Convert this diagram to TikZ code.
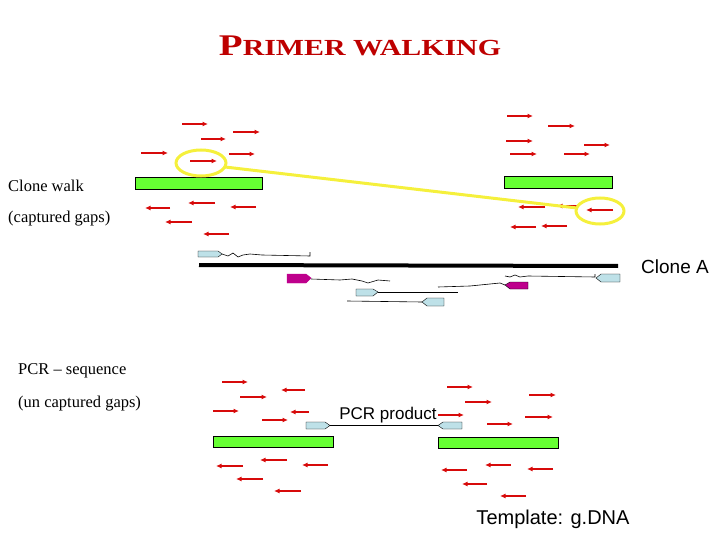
\documentclass[tikz,border=0pt]{standalone}
\usepackage{fontspec}
\setmainfont{Liberation Serif}
\newfontfamily\arialf{Liberation Sans}
\usetikzlibrary{arrows.meta}
\definecolor{arr}{RGB}{215,10,10}
\definecolor{bar}{RGB}{102,255,51}
\definecolor{lb}{RGB}{190,225,232}
\definecolor{mag}{RGB}{190,0,140}
\definecolor{ttl}{RGB}{190,0,0}
\definecolor{yel}{RGB}{245,240,60}
\begin{document}
\begin{tikzpicture}[x=1pt,y=-1pt,
 ra/.style={arr,line width=1.7pt,-{Latex[length=5.5pt,width=5pt]}},
 gbar/.style={fill=bar,draw=black,line width=0.6pt},
 pr/.style={draw=black,line width=0.4pt},
 lbl/.style={font=\arialf\fontsize{17}{17}\selectfont,inner sep=0pt},
 side/.style={font=\fontsize{16.5}{16.5}\selectfont,anchor=west,inner sep=0pt}]
\useasboundingbox (0,0) rectangle (720,540);
% title
\node[text=ttl,font=\bfseries,inner sep=0pt] (title) at (360,46) {\scalebox{1.3}[1]{{\fontsize{30}{30}\selectfont P}{\fontsize{23}{23}\selectfont RIMER WALKING}}};
% side texts
\node[side] (t1) at (8,186) {Clone walk};
\node[side] (t2) at (8,219) {(captured gaps)};
\node[side] (t3) at (18,371) {PCR -- sequence};
\node[side] (t4) at (18,404) {(un captured gaps)};
% bars
\draw[gbar] (135,177) rectangle (262,189);
\draw[gbar] (504,176) rectangle (612,188);
\draw[gbar] (213,436) rectangle (333,447);
\draw[gbar] (438,437) rectangle (558,448);
% right arrows
\foreach \a/\b/\y in {182/208/124,233/260/132,201/226/139,141/168/153,229/255/154,190/217/161,
 507/533/116,548/575/126,506/533/141,584/610/145,510/537/154,564/590/154,
 222/248/382,240/267/397,213/239/411,262/288/420,447/473/387,465/492/402,529/556/395,438/464/415,487/513/424,525/553/417}
 \draw[ra] (\a,\y) -- (\b,\y);
% left arrows
\foreach \a/\b/\y in {170/145/208,215/188/203,256/230/207,192/165/222,229/203/234,
 578/557/206,613/586/210,536/510/227,567/541/226,545/518/207,
 305/281/390,309/290/412,
 243/216/466,287/260/460,328/302/465,263/236/479,301/274/491,
 467/441/470,511/485/465,553/527/469,487/462/484,526/500/496}
 \draw[ra] (\a,\y) -- (\b,\y);
% yellow highlight
\draw[yel,line width=3pt] (201,163) ellipse (25 and 13);
\draw[yel,line width=3pt] (600,211) ellipse (24 and 13);
\draw[yel,line width=3pt] (225,167) -- (577,208);
% Clone A
\draw[black,line width=4pt] (199,265) -- (618,266);
\node[lbl,font=\arialf\fontsize{19}{19}\selectfont,anchor=west] (cloneA) at (641,267) {Clone A};
\draw[pr,fill=lb] (198,251) -- (218,251) -- (222,254) -- (218,257) -- (198,257) -- cycle;
\draw[line width=0.6pt] (222,254) -- (228,256) -- (233,253) -- (238,257) -- (243,255) -- (250,254) -- (262,255) -- (310,256) -- (310,252);
\draw[pr,fill=mag,draw=mag] (287,274) -- (306,274) -- (311,278) -- (306,283) -- (287,283) -- cycle;
\draw[line width=0.6pt] (311,279) -- (340,280) -- (352,279) -- (362,281) -- (368,283) -- (378,280) -- (390,281);
\draw[pr,fill=lb] (356,289) -- (373,289) -- (378,292) -- (373,296) -- (356,296) -- cycle;
\draw[line width=0.6pt] (378,292) -- (458,292);
\draw[pr,fill=lb] (444,298) -- (427,298) -- (422,302) -- (427,306) -- (444,306) -- cycle;
\draw[line width=0.6pt] (347,301) -- (422,302);
\draw[pr,fill=mag] (528,282) -- (510,282) -- (505,285) -- (510,289) -- (528,289) -- cycle;
\draw[line width=0.6pt] (438,287) -- (470,286) -- (500,283) -- (505,285);
\draw[pr,fill=lb] (620,274) -- (601,274) -- (596,278) -- (601,282) -- (620,282) -- cycle;
\draw[line width=0.6pt] (505,276) -- (510,277) -- (515,275) -- (520,277) -- (528,276) -- (595,277) -- (595,274);
% PCR product
\draw[pr,fill=lb] (306,422) -- (325,422) -- (330,425.5) -- (325,429) -- (306,429) -- cycle;
\draw[pr,fill=lb] (462,422) -- (443,422) -- (438,425.5) -- (443,429) -- (462,429) -- cycle;
\draw[line width=0.6pt] (330,425.5) -- (438,425.5);
\node[lbl] (pcr) at (388,415) {PCR product};
\node[lbl,font=\arialf\fontsize{20}{20}\selectfont] (tmpl) at (553,519) {Template: g.DNA};
\end{tikzpicture}
\end{document}
